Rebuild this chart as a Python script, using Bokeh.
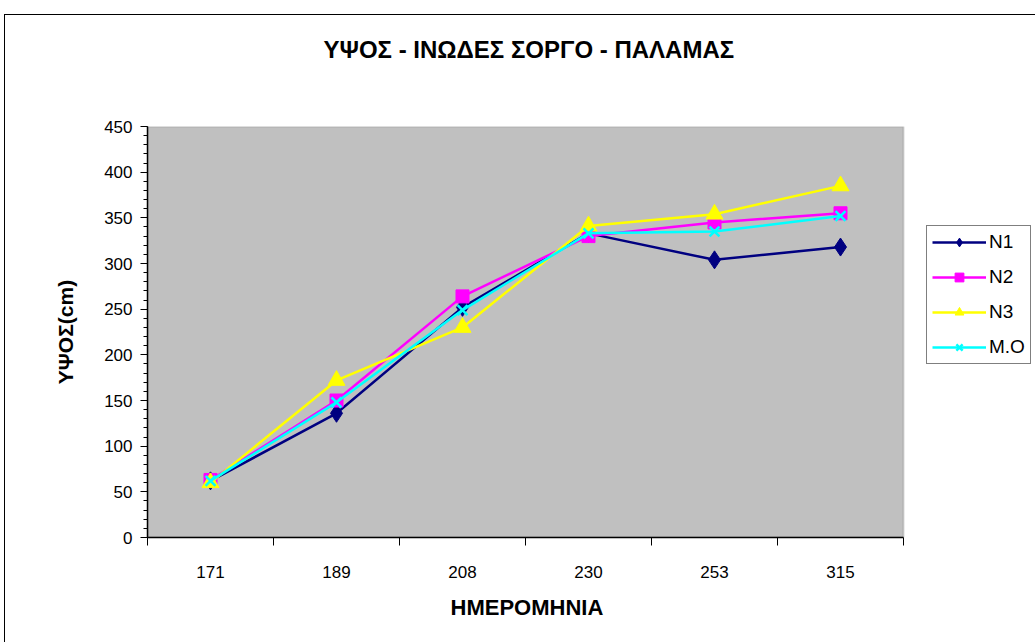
from bokeh.plotting import figure
from bokeh.models import (Range1d, FixedTicker, SingleIntervalTicker, Legend,
                          LegendItem, BoxAnnotation, LinearAxis, Title)
from bokeh.embed import file_html
from bokeh.resources import INLINE

# ---- data ----
categories = ["171", "189", "208", "230", "253", "315"]
n1 = [62, 136, 252, 333, 304, 318]
n2 = [63, 150, 264, 330, 345, 355]
n3 = [60, 172, 230, 341, 354, 385]
mo = [62, 148, 249, 333, 335, 352]
series_names = ["N1", "N2", "N3", "M.O"]
y_ticks_step = 50
y_max = 450

# ---- layout ----
W, H = 1035, 642
FL, FT, FW, FH = 147, 126, 756, 411
FONT = "Liberation Sans"

ncat = len(categories)
xpos = [i + 0.5 for i in range(ncat)]
x_end = ncat * (W - FL) / FW   # frame runs to the right edge (legend room)

border_css = {
    "background-image": "linear-gradient(#000,#000), linear-gradient(#000,#000)",
    "background-size": "1px 100%, 100% 1px",
    "background-position": "4px 14px, 4px 14px",
    "background-repeat": "no-repeat",
    "background-color": "white",
}

p = figure(width=W, height=H, output_backend="svg", toolbar_location=None,
           title=None,
           x_range=Range1d(0, x_end), y_range=Range1d(0, y_max),
           min_border_left=FL, min_border_right=0,
           min_border_top=FT, min_border_bottom=H - FT - FH,
           background_fill_alpha=0, border_fill_alpha=0, styles=border_css)

p.outline_line_color = None
p.xgrid.visible = False
p.ygrid.visible = False

xa = p.below[0]
ya = p.left[0]

# grey plot area
area = BoxAnnotation(left=0, right=ncat, bottom=0, top=y_max,
                     fill_color="#C0C0C0", fill_alpha=1,
                     line_color="#808080", line_width=2, level="underlay")
p.add_layout(area)

# invisible spacer above the frame (one white tick in the white margin),
# then the chart title
spacer_tick = (ncat + x_end) / 2
spacer = LinearAxis(ticker=FixedTicker(ticks=[spacer_tick]),
                    major_label_overrides={spacer_tick: ""},
                    major_label_text_font_size="1px",
                    axis_line_color=None,
                    major_tick_line_color="white", minor_tick_line_color=None,
                    major_tick_out=64, major_tick_in=0, minor_tick_out=0,
                    minor_tick_in=0, major_label_standoff=0)
p.add_layout(spacer, "above")
title = Title(text="ΥΨΟΣ - ΙΝΩΔΕΣ ΣΟΡΓΟ - ΠΑΛΑΜΑΣ", align="left", offset=176,
              standoff=0, text_font=FONT, text_font_size="24px",
              text_font_style="bold", text_color="black")
p.add_layout(title, "above")

# x axis
xa.bounds = (0, ncat)
xa.ticker = FixedTicker(ticks=xpos, minor_ticks=list(range(ncat + 1)))
xa.major_label_overrides = {x: c for x, c in zip(xpos, categories)}
xa.major_tick_out = 0
xa.major_tick_in = 0
xa.minor_tick_out = 8
xa.minor_tick_in = 0
xa.minor_tick_line_color = "black"
xa.axis_line_color = "black"
xa.axis_line_width = 1.5
xa.major_label_text_font = FONT
xa.major_label_text_font_size = "17px"
xa.major_label_text_color = "black"
xa.major_label_standoff = 20

xtitle = Title(text="ΗΜΕΡΟΜΗΝΙΑ", align="left", offset=303, standoff=24,
               text_font=FONT, text_font_size="22px", text_font_style="bold",
               text_color="black")
p.add_layout(xtitle, "below")

# y axis
ya.ticker = SingleIntervalTicker(interval=y_ticks_step, num_minor_ticks=5)
ya.major_tick_out = 7
ya.major_tick_in = 0
ya.minor_tick_out = 4
ya.minor_tick_in = 0
ya.major_tick_line_color = "black"
ya.minor_tick_line_color = "black"
ya.axis_line_color = "black"
ya.axis_line_width = 1.5
ya.major_label_text_font = FONT
ya.major_label_text_font_size = "17px"
ya.major_label_text_color = "black"
ya.major_label_standoff = 8
ya.axis_label = "ΥΨΟΣ(cm)"
ya.axis_label_text_font = FONT
ya.axis_label_text_font_size = "21px"
ya.axis_label_text_font_style = "bold"
ya.axis_label_text_color = "black"
ya.axis_label_standoff = 24

# series
styles = [
    ("#000080", "diamond", 18, n1),
    ("#FF00FF", "square", 13, n2),
    ("#FFFF00", "triangle", 17, n3),
    ("#00FFFF", "x", 14, mo),
]
items = []
for name, (col, mk, sz, vals) in zip(series_names, styles):
    r_line = p.line(xpos, vals, line_color=col, line_width=2.5)
    if mk == "x":
        r_mark = p.scatter(xpos, vals, marker=mk, size=sz, line_color=col,
                           line_width=2.5)
    else:
        r_mark = p.scatter(xpos, vals, marker=mk, size=sz, fill_color=col,
                           line_color=col)
    items.append(LegendItem(label=name, renderers=[r_line, r_mark]))

legend = Legend(items=items, location=(926 - FL, FT + FH - 364))
legend.border_line_color = "black"
legend.border_line_width = 1
legend.background_fill_color = "white"
legend.background_fill_alpha = 1
legend.label_text_font = FONT
legend.label_text_font_size = "19px"
legend.label_text_color = "black"
legend.glyph_width = 54
legend.glyph_height = 22
legend.label_standoff = 3
legend.spacing = 13
legend.padding = 5
legend.margin = 0
p.add_layout(legend)

open("out.html", "w").write(file_html(p, INLINE))
